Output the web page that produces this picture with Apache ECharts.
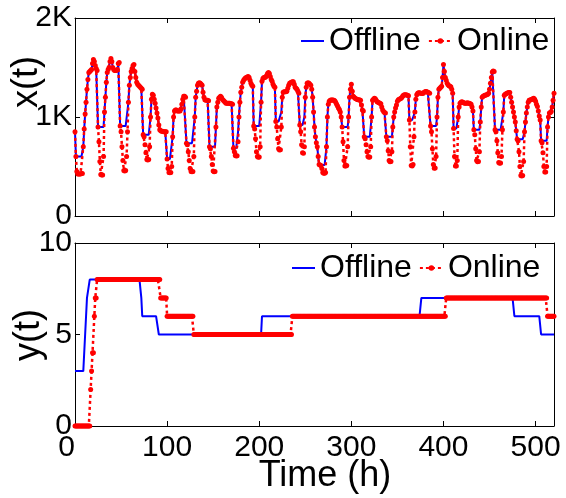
<!DOCTYPE html>
<html>
<head>
<meta charset="utf-8">
<script src="https://cdn.jsdelivr.net/npm/echarts@6/dist/echarts.min.js"></script>
<style>
  html, body { margin: 0; padding: 0; background: #fff; }
  #chart { width: 566px; height: 498px; }
</style>
</head>
<body>
<div id="chart"></div>
<script>
// Hourly workload x(t), offline plan (one value per hour, hours 0..520)
const offlineX = [
  850,600,600,600,600,600,600,600,600,700,
  880,1030,1150,1280,1380,1450,1460,1470,1480,1540,
  1580,1560,1520,1490,1470,900,900,900,900,900,
  900,900,1050,1200,1350,1450,1480,1500,1560,1590,
  1560,1500,1480,1470,1470,1470,1480,1540,1550,910,
  910,910,910,910,910,910,910,910,1150,1320,
  1400,1460,1490,1520,1530,1460,1400,1350,1330,1320,
  1310,1300,1290,1280,820,820,820,820,820,820,
  820,820,1000,1180,1230,1220,1180,1140,1090,1040,
  990,920,870,860,855,855,850,850,850,850,
  575,575,575,575,575,575,800,1000,1060,1070,
  1070,1060,1060,1060,1060,1080,1130,1180,1210,1210,
  1200,735,735,735,735,735,735,735,735,735,
  1000,1200,1260,1320,1340,1345,1340,1330,1320,1250,
  1200,1175,1170,1170,1170,1165,700,700,700,700,
  700,700,700,900,1100,1150,1190,1200,1210,1200,
  1180,1170,1160,1150,1140,1140,1140,1140,1140,1135,
  1135,1130,685,685,685,685,685,850,1000,1150,
  1250,1300,1350,1370,1385,1395,1400,1405,1410,1400,
  1370,1340,1320,1310,910,910,910,910,910,910,
  910,910,1150,1360,1390,1400,1400,1405,1420,1440,
  1450,1440,1410,1380,1360,1330,1310,1300,955,955,
  955,955,955,955,1050,1200,1250,1255,1255,1255,
  1260,1290,1320,1340,1345,1350,1355,1355,1330,1300,
  1290,1280,1260,1240,920,920,920,920,920,1000,
  1200,1300,1340,1345,1340,1330,1320,1280,1200,1050,
  900,800,740,700,600,520,515,515,515,515,
  515,515,515,700,1000,1130,1160,1170,1172,1172,
  1172,1170,1165,1150,1130,1110,1090,1075,1050,1000,
  900,900,900,900,900,900,900,1000,1200,1280,
  1330,1260,1210,1200,1190,1185,1180,1175,1175,1172,
  1170,1120,1070,1060,800,800,800,800,800,800,
  800,800,1000,1170,1180,1190,1185,1170,1155,1150,
  1145,1140,1135,1100,1070,1055,1045,1040,800,800,
  800,800,800,800,800,900,1000,1050,1090,1120,
  1160,1175,1180,1185,1190,1200,1215,1222,1225,1225,
  1222,1220,1215,970,970,970,970,970,970,1050,
  1180,1225,1240,1245,1245,1240,1240,1238,1240,1250,
  1256,1258,1255,1250,1245,1240,910,910,910,910,
  910,910,910,1000,1200,1280,1290,1300,1310,1400,
  1530,1460,1400,1370,1340,1325,1315,1310,1305,1280,
  1240,885,885,885,885,885,1000,1100,1140,1150,
  1155,1150,1145,1140,1138,1140,1145,1140,1138,1135,
  1130,1100,1060,870,870,870,870,870,870,870,
  950,1100,1200,1210,1215,1220,1222,1225,1230,1240,
  1280,1340,1400,1455,1465,1460,870,870,870,870,
  870,870,870,870,870,1050,1220,1230,1235,1240,
  1245,1248,1248,1200,1150,1100,1050,1000,950,860,
  775,775,775,775,775,775,775,775,850,950,
  1040,1100,1150,1170,1172,1175,1180,1185,1190,1180,
  1160,1130,1105,1060,1010,970,760,760,760,760,
  760,760,760,900,1000,1040,1045,1055,1100,1170,
  1240
];

// Hourly workload x(t), online decisions
const onlineX = [
  850,600,450,425,425,425,425,430,430,700,
  880,1030,1150,1280,1380,1450,1460,1470,1480,1540,
  1580,1560,1520,1490,1470,900,750,550,420,415,
  415,600,1050,1200,1350,1450,1480,1500,1560,1590,
  1560,1500,1480,1470,1470,1470,1480,1540,1550,910,
  850,700,560,460,455,460,600,850,1150,1320,
  1400,1460,1490,1520,1530,1460,1400,1350,1330,1320,
  1310,1300,1290,1280,820,800,720,640,570,566,
  570,700,1000,1180,1230,1220,1180,1140,1090,1040,
  990,920,870,860,855,855,850,850,850,850,
  575,480,440,438,440,500,800,1000,1060,1070,
  1070,1060,1060,1060,1060,1080,1130,1180,1210,1210,
  1200,735,720,650,560,480,450,448,450,600,
  1000,1200,1260,1320,1340,1345,1340,1330,1320,1250,
  1200,1175,1170,1170,1170,1165,700,680,600,520,
  455,448,450,900,1100,1150,1190,1200,1210,1200,
  1180,1170,1160,1150,1140,1140,1140,1140,1140,1135,
  1135,1130,685,650,610,606,608,750,1000,1150,
  1250,1300,1350,1370,1385,1395,1400,1405,1410,1400,
  1370,1340,1320,1310,910,880,780,650,600,593,
  595,700,1150,1360,1390,1400,1400,1405,1420,1440,
  1450,1440,1410,1380,1360,1330,1310,1300,955,900,
  780,680,667,670,900,1200,1250,1255,1255,1255,
  1260,1290,1320,1340,1345,1350,1355,1355,1330,1300,
  1290,1280,1260,1240,920,850,720,640,633,700,
  1200,1300,1340,1345,1340,1330,1320,1280,1200,1050,
  900,800,740,700,600,520,515,510,480,440,
  431,431,440,700,1000,1130,1160,1170,1172,1172,
  1172,1170,1165,1150,1130,1110,1090,1075,1050,1000,
  900,750,560,505,505,510,700,1000,1200,1280,
  1330,1260,1210,1200,1190,1185,1180,1175,1175,1172,
  1170,1120,1070,1060,800,780,720,650,600,593,
  595,700,1000,1170,1180,1190,1185,1170,1155,1150,
  1145,1140,1135,1100,1070,1055,1045,1040,800,760,
  660,560,549,550,650,900,1000,1050,1090,1120,
  1160,1175,1180,1185,1190,1200,1215,1222,1225,1225,
  1222,1220,1215,970,700,510,505,520,800,1050,
  1180,1225,1240,1245,1245,1240,1240,1238,1240,1250,
  1256,1258,1255,1250,1245,1240,910,850,680,520,
  482,485,600,1000,1200,1280,1290,1300,1310,1400,
  1530,1460,1400,1370,1340,1325,1315,1310,1305,1280,
  1240,885,600,505,505,560,1000,1100,1140,1150,
  1155,1150,1145,1140,1138,1140,1145,1140,1138,1135,
  1130,1100,1060,870,820,680,560,549,550,650,
  950,1100,1200,1210,1215,1220,1222,1225,1230,1240,
  1280,1340,1400,1455,1465,1460,870,850,760,640,
  540,532,535,600,870,1050,1220,1230,1235,1240,
  1245,1248,1248,1200,1150,1100,1050,1000,950,860,
  775,760,650,500,410,404,408,550,850,950,
  1040,1100,1150,1170,1172,1175,1180,1185,1190,1180,
  1160,1130,1105,1060,1010,970,760,740,640,500,
  445,445,500,900,1000,1040,1045,1055,1100,1170,
  1240
];

// Active servers y(t), offline plan (hours 0..520)
const offlineY = [
  3,3,3,3,3,3,3,3,3,3,3,5,6,7,7,7,8,8,8,8,
  8,8,8,8,8,8,8,8,8,8,8,8,8,8,8,8,8,8,8,8,
  8,8,8,8,8,8,8,8,8,8,8,8,8,8,8,8,8,8,8,8,
  8,8,8,8,8,8,8,8,8,8,8,8,7,6,6,6,6,6,6,6,
  6,6,6,6,6,6,6,6,6,6,6,5,5,5,5,5,5,5,5,5,
  5,5,5,5,5,5,5,5,5,5,5,5,5,5,5,5,5,5,5,5,
  5,5,5,5,5,5,5,5,5,5,5,5,5,5,5,5,5,5,5,5,
  5,5,5,5,5,5,5,5,5,5,5,5,5,5,5,5,5,5,5,5,
  5,5,5,5,5,5,5,5,5,5,5,5,5,5,5,5,5,5,5,5,
  5,5,5,5,5,5,5,5,5,5,5,5,5,5,5,5,5,5,5,5,
  5,5,5,6,6,6,6,6,6,6,6,6,6,6,6,6,6,6,6,6,
  6,6,6,6,6,6,6,6,6,6,6,6,6,6,6,6,6,6,6,6,
  6,6,6,6,6,6,6,6,6,6,6,6,6,6,6,6,6,6,6,6,
  6,6,6,6,6,6,6,6,6,6,6,6,6,6,6,6,6,6,6,6,
  6,6,6,6,6,6,6,6,6,6,6,6,6,6,6,6,6,6,6,6,
  6,6,6,6,6,6,6,6,6,6,6,6,6,6,6,6,6,6,6,6,
  6,6,6,6,6,6,6,6,6,6,6,6,6,6,6,6,6,6,6,6,
  6,6,6,6,6,6,6,6,6,6,6,6,6,6,6,6,6,6,6,6,
  6,6,6,6,6,6,6,6,6,6,6,6,6,6,6,6,7,7,7,7,
  7,7,7,7,7,7,7,7,7,7,7,7,7,7,7,7,7,7,7,7,
  7,7,7,7,7,7,7,7,7,7,7,7,7,7,7,7,7,7,7,7,
  7,7,7,7,7,7,7,7,7,7,7,7,7,7,7,7,7,7,7,7,
  7,7,7,7,7,7,7,7,7,7,7,7,7,7,7,7,7,7,7,7,
  7,7,7,7,7,7,7,7,7,7,7,7,7,7,7,7,7,6,6,6,
  6,6,6,6,6,6,6,6,6,6,6,6,6,6,6,6,6,6,6,6,
  6,6,6,6,6,6,5,5,5,5,5,5,5,5,5,5,5,5,5,5,
  5
];

// Active servers y(t), online decisions
const onlineY = [
  0,0,0,0,0,0,0,0,0,0,0,0,0,0,0,0,0,2,3,4,
  4,6,7,7,8,8,8,8,8,8,8,8,8,8,8,8,8,8,8,8,
  8,8,8,8,8,8,8,8,8,8,8,8,8,8,8,8,8,8,8,8,
  8,8,8,8,8,8,8,8,8,8,8,8,8,8,8,8,8,8,8,8,
  8,8,8,8,8,8,8,8,8,8,8,8,8,7,7,7,7,7,7,7,
  6,6,6,6,6,6,6,6,6,6,6,6,6,6,6,6,6,6,6,6,
  6,6,6,6,6,6,6,6,6,5,5,5,5,5,5,5,5,5,5,5,
  5,5,5,5,5,5,5,5,5,5,5,5,5,5,5,5,5,5,5,5,
  5,5,5,5,5,5,5,5,5,5,5,5,5,5,5,5,5,5,5,5,
  5,5,5,5,5,5,5,5,5,5,5,5,5,5,5,5,5,5,5,5,
  5,5,5,5,5,5,5,5,5,5,5,5,5,5,5,5,5,5,5,5,
  5,5,5,5,5,5,5,5,5,5,5,5,5,5,5,5,6,6,6,6,
  6,6,6,6,6,6,6,6,6,6,6,6,6,6,6,6,6,6,6,6,
  6,6,6,6,6,6,6,6,6,6,6,6,6,6,6,6,6,6,6,6,
  6,6,6,6,6,6,6,6,6,6,6,6,6,6,6,6,6,6,6,6,
  6,6,6,6,6,6,6,6,6,6,6,6,6,6,6,6,6,6,6,6,
  6,6,6,6,6,6,6,6,6,6,6,6,6,6,6,6,6,6,6,6,
  6,6,6,6,6,6,6,6,6,6,6,6,6,6,6,6,6,6,6,6,
  6,6,6,6,6,6,6,6,6,6,6,6,6,6,6,6,6,6,6,6,
  6,6,6,6,6,6,6,6,6,6,6,6,6,6,6,6,6,6,6,6,
  6,6,6,7,7,7,7,7,7,7,7,7,7,7,7,7,7,7,7,7,
  7,7,7,7,7,7,7,7,7,7,7,7,7,7,7,7,7,7,7,7,
  7,7,7,7,7,7,7,7,7,7,7,7,7,7,7,7,7,7,7,7,
  7,7,7,7,7,7,7,7,7,7,7,7,7,7,7,7,7,7,7,7,
  7,7,7,7,7,7,7,7,7,7,7,7,7,7,7,7,7,7,7,7,
  7,7,7,7,7,7,7,7,7,7,7,7,7,6,6,6,6,6,6,6,
  6
];

const seriesNames = ['Offline', 'Online'];
const xTicks = { min: 0, max: 520, interval: 100 };
const xLoadTicks = { min: 0, max: 2000, interval: 1000 };
const yServerTicks = { min: 0, max: 10, interval: 5 };

const FONT = '"Liberation Sans", Arial, Helvetica, sans-serif';
const BLUE = '#0000ff';
const RED = '#ff0000';

const toPairs = arr => arr.map((v, i) => [i, v]);

function xAxisDef(gridIndex, position, showLabel) {
  return {
    type: 'value', gridIndex, position,
    min: xTicks.min, max: xTicks.max, interval: xTicks.interval,
    axisLine: { show: true, onZero: false, lineStyle: { color: '#000', width: 1 } },
    axisTick: { show: true, inside: true, length: 5, lineStyle: { color: '#000', width: 1 } },
    axisLabel: {
      show: showLabel, color: '#000', fontSize: 30, fontFamily: FONT, margin: 7,
      showMaxLabel: false, alignMinLabel: 'right'
    },
    splitLine: { show: false }
  };
}

function yAxisDef(gridIndex, position, showLabel, ticks, formatter) {
  return {
    type: 'value', gridIndex, position,
    min: ticks.min, max: ticks.max, interval: ticks.interval,
    axisLine: { show: true, onZero: false, lineStyle: { color: '#000', width: 1 } },
    axisTick: { show: true, inside: true, length: 5, lineStyle: { color: '#000', width: 1 } },
    axisLabel: { show: showLabel, color: '#000', fontSize: 30, fontFamily: FONT, margin: 3, formatter },
    splitLine: { show: false }
  };
}

const kFormat = v => (v === 0 ? '0' : (v / 1000) + 'K');

function offlineSeries(xi, yi, data) {
  return {
    type: 'line', name: seriesNames[0], xAxisIndex: xi, yAxisIndex: yi,
    data, symbol: 'none', z: 2,
    lineStyle: { color: BLUE, width: 2 }, itemStyle: { color: BLUE }
  };
}

function onlineSeries(xi, yi, data) {
  return {
    type: 'line', name: seriesNames[1], xAxisIndex: xi, yAxisIndex: yi,
    data, symbol: 'circle', symbolSize: 5, showAllSymbol: true, z: 3,
    lineStyle: { color: RED, width: 2.5, type: [3, 3] }, itemStyle: { color: RED }
  };
}

function legendDef(left, top) {
  return {
    data: [
      { name: seriesNames[0], itemStyle: { color: 'rgba(0,0,0,0)', borderWidth: 0 } },
      { name: seriesNames[1] }
    ],
    left, top, orient: 'horizontal',
    itemWidth: 23, itemHeight: 7, itemGap: 7, padding: 0, selectedMode: false,
    textStyle: { fontSize: 32, fontFamily: FONT, color: '#000' }
  };
}

const chart = echarts.init(document.getElementById('chart'), null, { renderer: 'canvas' });

chart.setOption({
  animation: false,
  backgroundColor: '#fff',
  grid: [
    { left: 75, top: 18, width: 479, height: 198 },
    { left: 75, top: 243, width: 479, height: 183 }
  ],
  xAxis: [
    xAxisDef(0, 'bottom', false),
    xAxisDef(0, 'top', false),
    xAxisDef(1, 'bottom', true),
    xAxisDef(1, 'top', false)
  ],
  yAxis: [
    yAxisDef(0, 'left', true, xLoadTicks, kFormat),
    yAxisDef(0, 'right', false, xLoadTicks, kFormat),
    yAxisDef(1, 'left', true, yServerTicks, null),
    yAxisDef(1, 'right', false, yServerTicks, null)
  ],
  legend: [legendDef(300, 25), legendDef(291, 252)],
  series: [
    offlineSeries(0, 0, toPairs(offlineX)),
    onlineSeries(0, 0, toPairs(onlineX)),
    offlineSeries(2, 2, toPairs(offlineY)),
    onlineSeries(2, 2, toPairs(onlineY))
  ],
  graphic: [
    {
      type: 'text', x: 27, y: 82, rotation: Math.PI / 2,
      style: { text: 'x(t)', font: '36px ' + FONT, fill: '#000', align: 'center', verticalAlign: 'middle' }
    },
    {
      type: 'text', x: 29, y: 335, rotation: Math.PI / 2,
      style: { text: 'y(t)', font: '36px ' + FONT, fill: '#000', align: 'center', verticalAlign: 'middle' }
    },
    {
      type: 'text', x: 325, y: 476,
      style: { text: 'Time (h)', font: '36px ' + FONT, fill: '#000', align: 'center', verticalAlign: 'middle' }
    }
  ]
});
</script>
</body>
</html>
